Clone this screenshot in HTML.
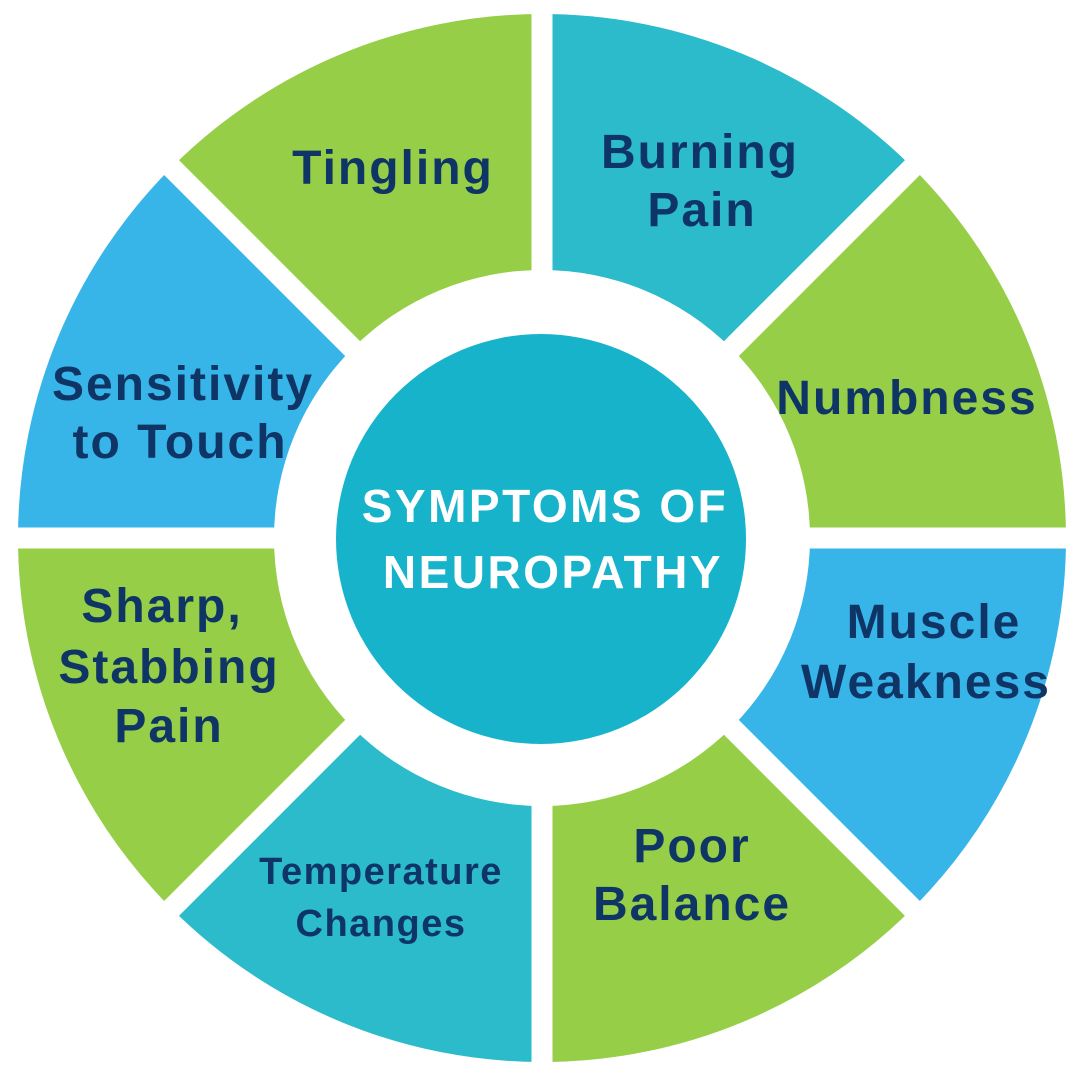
<!DOCTYPE html>
<html><head><meta charset="utf-8"><style>
html,body{margin:0;padding:0;background:#fff;}
svg{display:block;}
text{font-family:"Liberation Sans",sans-serif;font-weight:bold;fill:#0f3566;}
</style></head><body>
<svg width="1080" height="1080" viewBox="0 0 1080 1080" xmlns="http://www.w3.org/2000/svg">
<defs>
<mask id="m">
<rect width="1080" height="1080" fill="white"/>
<circle cx="542" cy="538" r="268" fill="black"/>
<g stroke="black" stroke-width="21">
<line x1="542" y1="0" x2="542" y2="1080"/>
<line x1="0" y1="538" x2="1080" y2="538"/>
<line x1="0" y1="-4" x2="1084" y2="1080"/>
<line x1="1080" y1="0" x2="0" y2="1080"/>
</g>
</mask>
</defs>
<g mask="url(#m)">
<path d="M542,538 L542,14 A524,524 0 0 1 912.5,167.5 Z" fill="#2bbbca"/>
<path d="M542,538 L912.5,167.5 A524,524 0 0 1 1066,538 Z" fill="#96cf47"/>
<path d="M542,538 L1066,538 A524,524 0 0 1 912.5,908.5 Z" fill="#38b5e8"/>
<path d="M542,538 L912.5,908.5 A524,524 0 0 1 542,1062 Z" fill="#96cf47"/>
<path d="M542,538 L542,1062 A524,524 0 0 1 171.5,908.5 Z" fill="#2bbbca"/>
<path d="M542,538 L171.5,908.5 A524,524 0 0 1 18,538 Z" fill="#96cf47"/>
<path d="M542,538 L18,538 A524,524 0 0 1 171.5,167.5 Z" fill="#38b5e8"/>
<path d="M542,538 L171.5,167.5 A524,524 0 0 1 542,14 Z" fill="#96cf47"/>
</g>
<circle cx="541" cy="539" r="205" fill="#17b3cb"/>
<g font-size="46" text-anchor="middle" letter-spacing="2.5" style="fill:#fff">
<text x="545" y="522" style="fill:#fff">SYMPTOMS OF</text>
<text x="553" y="588" style="fill:#fff">NEUROPATHY</text>
</g>
<g font-size="48" text-anchor="middle" letter-spacing="2">
<text x="393" y="184">Tingling</text>
<text x="700" y="168">Burning</text>
<text x="702" y="226">Pain</text>
<text x="907" y="414">Numbness</text>
<text x="934" y="638">Muscle</text>
<text x="926" y="698">Weakness</text>
<text x="692" y="862">Poor</text>
<text x="692" y="920">Balance</text>
<text x="183" y="400">Sensitivity</text>
<text x="180" y="458">to Touch</text>
<text x="162" y="622">Sharp,</text>
<text x="169" y="683">Stabbing</text>
<text x="169" y="742">Pain</text>
</g>
<g font-size="38" text-anchor="middle" letter-spacing="1.5">
<text x="381" y="884">Temperature</text>
<text x="381" y="936">Changes</text>
</g>
</svg>
</body></html>
